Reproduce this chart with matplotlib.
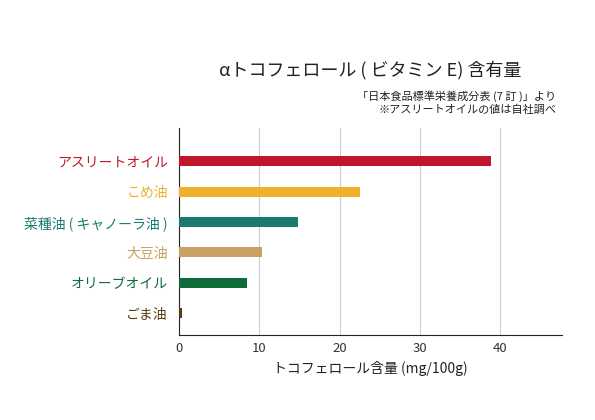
import matplotlib
matplotlib.use("Agg")
import matplotlib.pyplot as plt

plt.rcParams['font.family'] = ['Noto Sans CJK JP', 'DejaVu Sans']

categories = ["アスリートオイル", "こめ油", "菜種油 ( キャノーラ油 )", "大豆油", "オリーブオイル", "ごま油"]
values = [38.8, 22.5, 14.8, 10.3, 8.4, 0.4]
colors = ["#c0172d", "#f0b02e", "#1a7a70", "#c9a063", "#0e6b3a", "#5a3a14"]
xticks = [0, 10, 20, 30, 40]

fig = plt.figure(figsize=(5.95, 4.2), dpi=100)
ax = fig.add_axes([0.301, 0.202, 0.644, 0.493])
ypos = list(range(len(categories)))
ax.barh(ypos, values, height=0.33, color=colors, zorder=3)
ax.set_ylim(5.73, -1.1)
ax.set_xlim(0, 47.7)
ax.set_xticks(xticks)
ax.set_yticks(ypos)
ax.set_yticklabels(categories, fontsize=10)
for lab, c in zip(ax.get_yticklabels(), colors):
    lab.set_color(c)
ax.tick_params(axis='y', length=0, pad=8)
ax.tick_params(axis='x', length=0, labelsize=9.5, colors='#333333', pad=5)
ax.grid(axis='x', color='#cccccc', linewidth=0.8, zorder=0)
for s in ['top', 'right']:
    ax.spines[s].set_visible(False)
ax.spines['left'].set_color('#222222')
ax.spines['bottom'].set_color('#222222')
ax.set_xlabel("トコフェロール含量 (mg/100g)", fontsize=10, color='#222222', labelpad=4)

fig.text(0.622, 0.833, "αトコフェロール ( ビタミン E) 含有量", ha='center', va='center', fontsize=13, color='#222222')
fig.text(0.935, 0.772, "「日本食品標準栄養成分表 (7 訂 )」より", ha='right', va='center', fontsize=8, color='#222222')
fig.text(0.935, 0.738, "※アスリートオイルの値は自社調べ", ha='right', va='center', fontsize=8, color='#222222')

fig.savefig("out.png", dpi=100)
